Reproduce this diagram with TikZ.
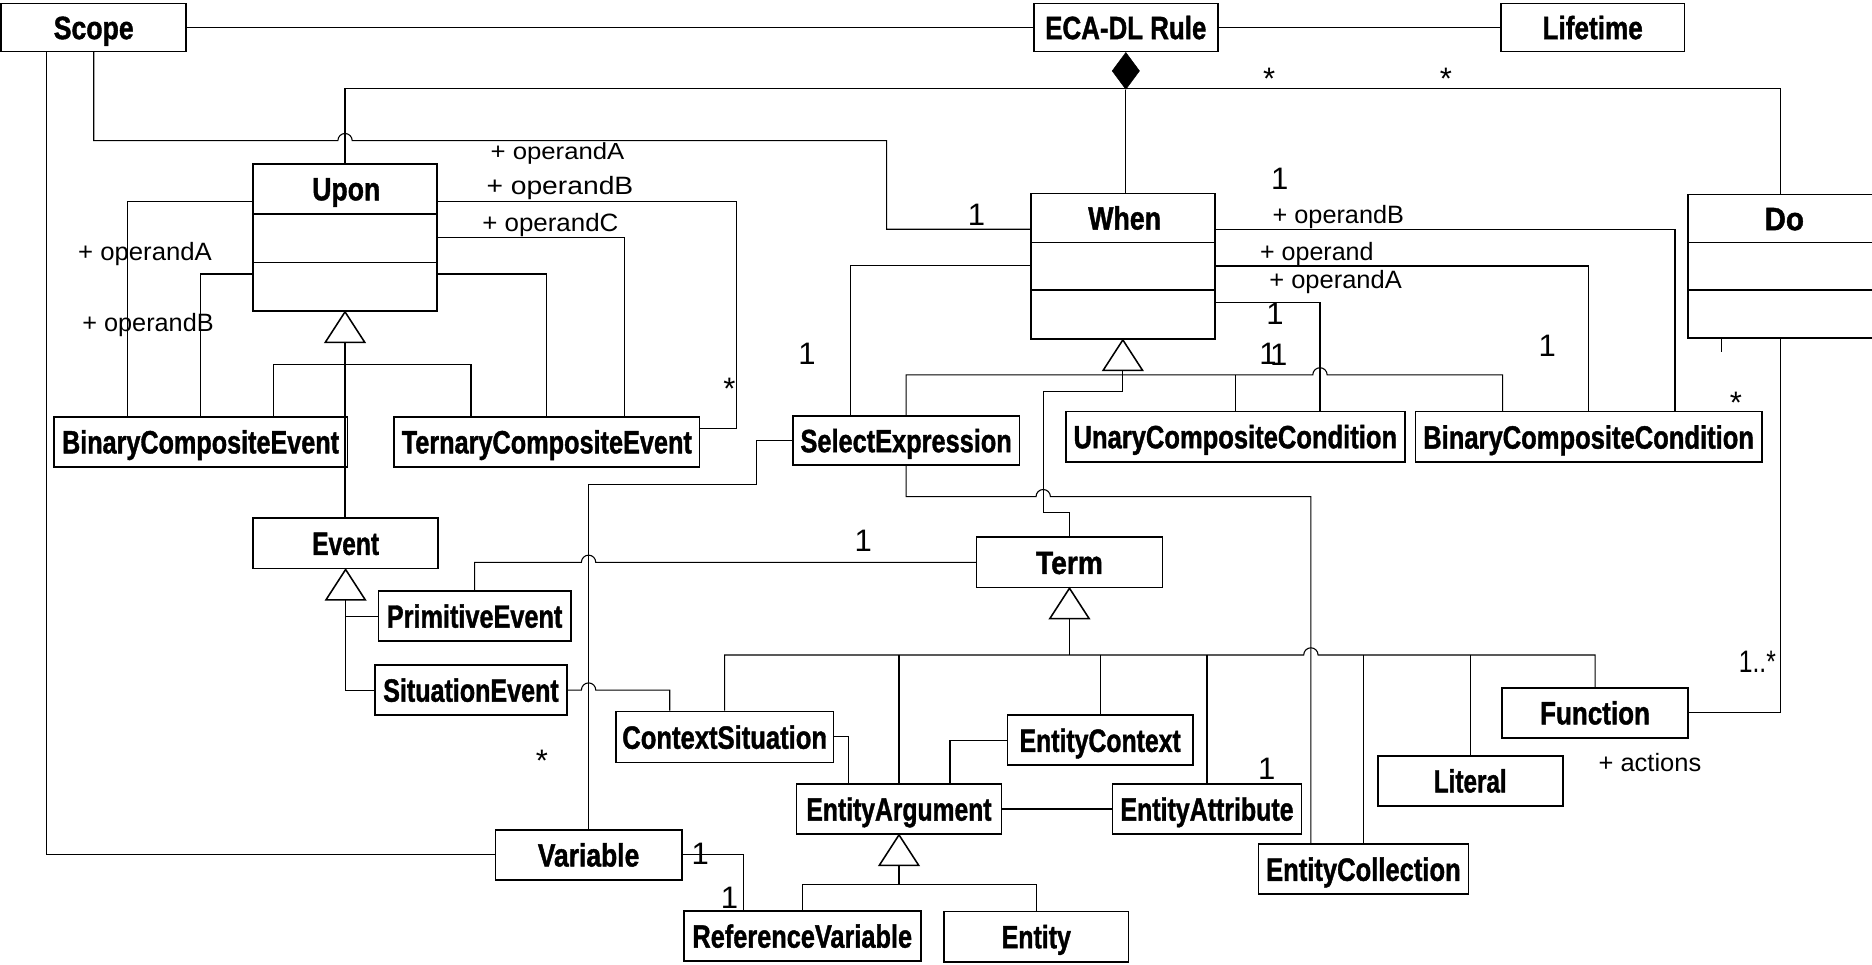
\documentclass[tikz,border=0pt]{standalone}
\usepackage{fontspec}
\setmainfont{Liberation Sans}
\newfontfamily\heavyfont[FakeBold=1.4]{Liberation Sans Bold}
\usepackage{graphicx}
\usetikzlibrary{shapes.geometric}

% squeeze a text to a given width (in pt), keeping its height
\newcommand\fitw[2]{\resizebox{#1pt}{\height}{#2}}

\begin{document}
\begin{tikzpicture}[x=1pt,y=-1pt,
  cls/.style={draw, line width=1.4pt, inner sep=0pt, text height=19.5pt, text depth=0pt,
              font=\fontsize{27}{27}\selectfont\heavyfont},
  cname/.style={inner sep=0pt, text height=19.5pt, text depth=0pt,
              font=\fontsize{27}{27}\selectfont\heavyfont},
  sep/.style={line width=1.4pt},
  conn/.style={line width=0.9pt},
  role/.style={inner sep=0pt, anchor=base, font=\fontsize{21}{21}\selectfont},
  mult/.style={inner sep=0pt, anchor=base, font=\fontsize{26}{26}\selectfont},
  gen/.pic={\draw[line width=1.3pt, fill=white, line join=miter] (0,0) -- (-16.5,25.5) -- (16.5,25.5) -- cycle;}
]
\fill[white] (0,0) rectangle (1568,808);
\useasboundingbox (0,0) rectangle (1568,808);
\clip (0,0) rectangle (1568,808);

% ---------- classes ----------
\node[cls, minimum width=155pt, minimum height=40pt] (scope) at (78.5,23) {\fitw{67}{Scope}};
\node[cls, minimum width=154pt, minimum height=40pt] (eca) at (943,23) {\fitw{135}{ECA-DL Rule}};
\node[cls, minimum width=154pt, minimum height=40pt] (life) at (1334,23) {\fitw{84}{Lifetime}};

\node[cls, minimum width=154pt, minimum height=123pt] (upon) at (289,199) {};
\node[cname] (upont) at (290,158) {\fitw{57}{Upon}};
\draw[sep] (upon.west |- 0,179) -- (upon.east |- 0,179);
\draw[sep] (upon.west |- 0,220) -- (upon.east |- 0,220);

\node[cls, minimum width=154pt, minimum height=122pt] (when) at (940.5,223) {};
\node[cname] (whent) at (942,182.5) {\fitw{61}{When}};
\draw[sep] (when.west |- 0,203) -- (when.east |- 0,203);
\draw[sep] (when.west |- 0,243) -- (when.east |- 0,243);

\node[cls, minimum width=161pt, minimum height=120pt] (do) at (1494.5,223) {};
\node[cname] (dot) at (1494.5,183) {\fitw{33}{Do}};
\draw[sep] (do.west |- 0,203) -- (do.east |- 0,203);
\draw[sep] (do.west |- 0,243) -- (do.east |- 0,243);

\node[cls, minimum width=246pt, minimum height=42pt] (bce) at (168,370) {\fitw{232}{BinaryCompositeEvent}};
\node[cls, minimum width=256pt, minimum height=42pt] (tce) at (458,370) {\fitw{243}{TernaryCompositeEvent}};
\node[cls, minimum width=155pt, minimum height=42.6pt] (event) at (289.5,455) {\fitw{56}{Event}};
\node[cls, minimum width=161pt, minimum height=42pt] (pe) at (397.5,516) {\fitw{147}{PrimitiveEvent}};
\node[cls, minimum width=161pt, minimum height=42pt] (se) at (394.5,578) {\fitw{147}{SituationEvent}};
\node[cls, minimum width=190pt, minimum height=41.5pt] (selexp) at (759,369) {\fitw{177}{SelectExpression}};
\node[cls, minimum width=284pt, minimum height=42pt] (ucc) at (1034.7,365.7) {\fitw{271}{UnaryCompositeCondition}};
\node[cls, minimum width=290pt, minimum height=42.5pt] (bcc) at (1330.6,366) {\fitw{277}{BinaryCompositeCondition}};
\node[cls, minimum width=155.6pt, minimum height=42pt] (term) at (895.8,471) {\fitw{56}{Term}};
\node[cls, minimum width=182pt, minimum height=42.8pt] (cs) at (607,617.4) {\fitw{171.5}{ContextSituation}};
\node[cls, minimum width=155pt, minimum height=42pt] (ec) at (921.5,620) {\fitw{135}{EntityContext}};
\node[cls, minimum width=171.5pt, minimum height=42pt] (ea) at (753,677.6) {\fitw{155}{EntityArgument}};
\node[cls, minimum width=158.5pt, minimum height=42pt] (eattr) at (1011,677.6) {\fitw{145}{EntityAttribute}};
\node[cls, minimum width=176pt, minimum height=42pt] (ecoll) at (1142,728) {\fitw{163}{EntityCollection}};
\node[cls, minimum width=155pt, minimum height=42pt] (lit) at (1231.5,654) {\fitw{61}{Literal}};
\node[cls, minimum width=155.5pt, minimum height=42pt] (func) at (1336,597) {\fitw{92}{Function}};
\node[cls, minimum width=156pt, minimum height=42pt] (var) at (493,716) {\fitw{85}{Variable}};
\node[cls, minimum width=198.6pt, minimum height=42pt] (rv) at (672,784) {\fitw{184}{ReferenceVariable}};
\node[cls, minimum width=154.5pt, minimum height=42pt] (entity) at (868,784.5) {\fitw{58}{Entity}};

% ---------- associations of the rule ----------
\draw[conn] (scope.east) -- (eca.west);
\draw[conn] (eca.east) -- (eca.east -| life.west);
\draw[conn] (scope.south) -- (78.5,117.8) -- (283,117.8) arc[start angle=180,end angle=0,radius=6pt]
  -- (742.6,117.8) -- (742.6,192) -- (when.west |- 0,192);
\draw[conn] (39,0 |- scope.south) -- (39,0 |- var.west) -- (var.west);

\node[diamond, draw, fill=black, inner sep=0pt, minimum width=23pt, minimum height=31pt, anchor=north] (dia) at (eca.south) {};
\draw[conn] (dia.south) -- (dia.south |- when.north);
\draw[conn] (upon.north) -- (289,74.5) -- (1491.6,74.5) -- (1491.6,0 |- do.north);

% ---------- Upon ----------
\draw[conn] (upon.west |- 0,169) -- (107,169) -- (107,0 |- bce.north);
\draw[conn] (upon.west |- 0,229.5) -- (168,229.5) -- (168,0 |- bce.north);
\draw[conn] (upon.east |- 0,169) -- (617,169) -- (617,359) -- (tce.east |- 0,359);
\draw[conn] (upon.east |- 0,199) -- (522.7,199) -- (522.7,0 |- tce.north);
\draw[conn] (upon.east |- 0,229.5) -- (458,229.5) -- (tce.north);
\draw[conn] (upon.south) -- (upon.south |- event.north);
\draw[conn] (229,0 |- bce.north) -- (229,305) -- (394.5,305) -- (394.5,0 |- tce.north);

% ---------- Event ----------
\draw[conn] (event.south) -- (event.south |- se.west) -- (se.west);
\draw[conn] (event.south |- pe.west) -- (pe.west);
\draw[conn] (pe.north) -- (pe.north |- term.west) -- (487,471) arc[start angle=180,end angle=0,radius=6pt] -- (term.west);
\draw[conn] (selexp.west) -- (634,369) -- (634,406) -- (493,406) -- (var.north);
\draw[conn] (se.east) -- (487,578) arc[start angle=180,end angle=0,radius=6pt] -- (561,578) -- (561,0 |- cs.north);

% ---------- When ----------
\draw[conn] (712,0 |- selexp.north) -- (712,222.5) -- (when.west |- 0,222.5);
\draw[conn] (selexp.north) -- (759,314) -- (1099.6,314) arc[start angle=180,end angle=0,radius=6pt]
  -- (1258.6,314) -- (1258.6,0 |- bcc.north);
\draw[conn] (ucc.north |- 0,314) -- (ucc.north);
\draw[conn] (when.south) -- (940.5,328) -- (873.8,328) -- (873.8,429.4) -- (term.north |- 0,429.4) -- (term.north);
\draw[conn] (selexp.south) -- (759,416) -- (867.8,416) arc[start angle=180,end angle=0,radius=6pt]
  -- (1098,416) -- (1098,0 |- ecoll.north);
\draw[conn] (when.east |- 0,192) -- (1403,192) -- (1403,0 |- bcc.north);
\draw[conn] (when.east |- 0,222.8) -- (bcc.north |- 0,222.8) -- (bcc.north);
\draw[conn] (when.east |- 0,253) -- (1105.6,253) -- (1105.6,0 |- ucc.north);

% ---------- Term ----------
\draw[conn] (term.south) -- (term.south |- 0,548.6);
\draw[conn] (cs.north) -- (607,548.6) -- (1092,548.6) arc[start angle=180,end angle=0,radius=6pt]
  -- (1336,548.6) -- (func.north);
\draw[conn] (ea.north |- 0,548.6) -- (ea.north);
\draw[conn] (ec.north |- 0,548.6) -- (ec.north);
\draw[conn] (eattr.north |- 0,548.6) -- (eattr.north);
\draw[conn] (ecoll.north |- 0,548.6) -- (ecoll.north);
\draw[conn] (lit.north |- 0,548.6) -- (lit.north);
\draw[conn] (cs.east |- 0,617) -- (711,617) -- (711,0 |- ea.north);
\draw[conn] (ec.west) -- (795.7,620) -- (795.7,0 |- ea.north);
\draw[conn] (ea.east) -- (eattr.west);
\draw[conn] (ea.south) -- (ea.south |- 0,740.5);
\draw[conn] (rv.north) -- (rv.north |- 0,740.5) -- (entity.north |- 0,740.5) -- (entity.north);
\draw[conn] (var.east) -- (622.6,716) -- (622.6,0 |- rv.north);

% ---------- Do ----------
\draw[conn] (1441.6,0 |- do.south) -- (1441.6,294.5);
\draw[conn] (1491.6,0 |- do.south) -- (1491.6,0 |- func.east) -- (func.east);

% ---------- generalization arrowheads ----------
\pic at (upon.south) {gen};
\pic at (event.south) {gen};
\pic at (when.south) {gen};
\pic at (term.south) {gen};
\pic at (ea.south) {gen};

% ---------- role names ----------
\node[role] (r1) at (121.5,217.8) {\fitw{112}{+ operandA}};
\node[role] (r2) at (124,277.8) {\fitw{110}{+ operandB}};
\node[role, font=\fontsize{19.5}{19.5}\selectfont] (r3) at (467,134) {\fitw{112}{+ operandA}};
\node[role] (r4) at (469,163) {\fitw{123}{+ operandB}};
\node[role] (r5) at (461,194) {\fitw{114}{+ operandC}};
\node[role] (r6) at (1121,187) {\fitw{110}{+ operandB}};
\node[role] (r7) at (1103,217.8) {\fitw{95}{+ operand}};
\node[role] (r8) at (1118.7,241.5) {\fitw{111}{+ operandA}};
\node[role] (r9) at (1382,646) {\fitw{86}{+ actions}};

% ---------- multiplicities ----------
\node[mult] (m1) at (818,188.5) {1};
\node[mult] (m2) at (676,305.7) {1};
\node[mult] (m3) at (611,335) {*};
\node[mult] (m4) at (723,462) {1};
\node[mult] (m5) at (454,646.6) {*};
\node[mult] (m6) at (586.5,724.5) {1};
\node[mult] (m7) at (611,760.6) {1};
\node[mult] (m8) at (1061,653) {1};
\node[mult] (m9) at (1072,159) {1};
\node[mult] (m10) at (1068,272) {1};
\node[mult] (m11) at (1062,305) {1};
\node[mult] (m12) at (1071,306.5) {1};
\node[mult] (m13) at (1296,299) {1};
\node[mult] (m14) at (1063,75) {*};
\node[mult] (m15) at (1211,75) {*};
\node[mult] (m16) at (1454,346) {*};
\node[mult] (m17) at (1472,563.7) {\fitw{31}{1..*}};
\end{tikzpicture}
\end{document}
